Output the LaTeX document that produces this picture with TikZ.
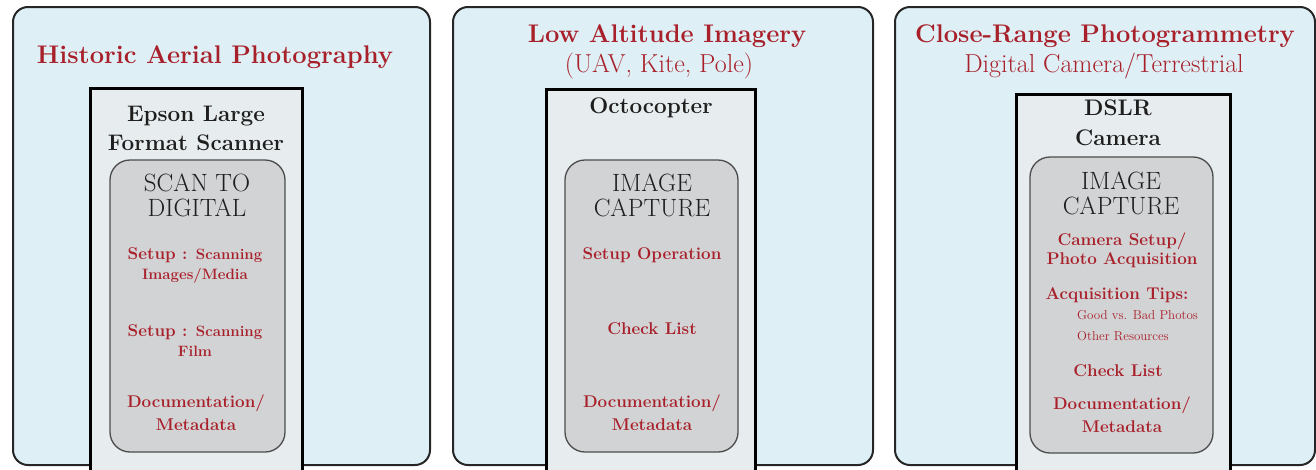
\documentclass[tikz,border=0pt]{standalone}
\usepackage{tikz}
\usetikzlibrary{positioning}

\definecolor{panelblue}{RGB}{222,239,246}
\definecolor{devicefill}{RGB}{231,236,238}
\definecolor{stepfill}{RGB}{210,211,213}
\definecolor{redtext}{RGB}{168,32,42}
\definecolor{darktext}{RGB}{30,30,30}

\newcommand{\fsz}[2]{\fontsize{#1}{#2}\selectfont}

\tikzset{
  panel/.style={draw=black!85, line width=2pt, fill=panelblue, rounded corners=15pt},
  device/.style={draw=black, line width=3pt, fill=devicefill},
  stepbox/.style={draw=black!70, line width=1.3pt, fill=stepfill, rounded corners=20pt},
  title/.style={text=redtext, font=\fsz{25.5}{30}\bfseries, align=center, inner sep=0pt},
  subtitle/.style={text=redtext, font=\fsz{26}{30}, align=center, inner sep=0pt},
  devname/.style={text=darktext, font=\fsz{22.5}{29}\bfseries, align=center, inner sep=0pt},
  stage/.style={text=darktext, font=\fsz{25}{25}, align=center, inner sep=0pt},
  item/.style={text=redtext, font=\fsz{17}{23}\bfseries, align=center, inner sep=0pt},
  note/.style={text=redtext, font=\fsz{13}{14}, anchor=west, inner sep=0pt}
}

\begin{document}
\begin{tikzpicture}[x=1pt, y=-1pt]
  \useasboundingbox (0,0) rectangle (1316,469);
  \clip (0,0) rectangle (1316,469);

  % historic aerial photography
  \draw[panel] (13,7) rectangle (430,465);
  \draw[device] (90,88) rectangle (302,485);
  \draw[stepbox] (110,160) rectangle (285,452);
  \node[title] (hap) at (215,57) {Historic Aerial Photography};
  \node[devname] (epson) at (196,128) {Epson Large\\Format Scanner};
  \node[stage] (scan) at (197,195) {SCAN TO\\DIGITAL};
  \node[item] (setupimg) at (195,265) {Setup : {\fsz{15}{20}\bfseries Scanning}\\[-3pt]{\fsz{15}{20}\bfseries Images/Media}};
  \node[item] (setupfilm) at (195,341) {Setup : {\fsz{15}{20}\bfseries Scanning}\\[-3pt]{\fsz{15}{20}\bfseries Film}};
  \node[item] (doc1) at (196,413) {Documentation/\\Metadata};

  % low altitude imagery
  \draw[panel] (453,7) rectangle (873,465);
  \draw[device] (546,89) rectangle (755,485);
  \draw[stepbox] (565,160) rectangle (738,452);
  \node[title] (lai) at (667,36) {Low Altitude Imagery};
  \node[subtitle] (uav) at (659,66) {(UAV, Kite, Pole)};
  \node[devname] (octo) at (651,108) {Octocopter};
  \node[stage] (capture2) at (652,195) {IMAGE\\CAPTURE};
  \node[item] (setupop) at (652,255) {Setup Operation};
  \node[item] (check2) at (652,329) {Check List};
  \node[item] (doc2) at (652,413) {Documentation/\\Metadata};

  % close-range photogrammetry
  \draw[panel] (895,7) rectangle (1315,465);
  \draw[device] (1016,94) rectangle (1230,485);
  \draw[stepbox] (1030,157) rectangle (1213,453);
  \node[title] (crp) at (1105,36) {Close-Range Photogrammetry};
  \node[subtitle] (dct) at (1104,66) {Digital Camera/Terrestrial};
  \node[devname] (dslr) at (1118,123) {DSLR\\[1pt]Camera};
  \node[stage] (capture3) at (1121,193) {IMAGE\\CAPTURE};
  \node[item] (camsetup) at (1122,250) {Camera Setup/\\[-4pt]Photo Acquisition};
  \node[item] (tips) at (1117,295) {Acquisition Tips:};
  \node[note] (goodbad) at (1077,315) {Good vs. Bad Photos};
  \node[note] (other) at (1077,336) {Other Resources};
  \node[item] (check3) at (1118,371) {Check List};
  \node[item] (doc3) at (1122,415) {Documentation/\\Metadata};
\end{tikzpicture}
\end{document}
